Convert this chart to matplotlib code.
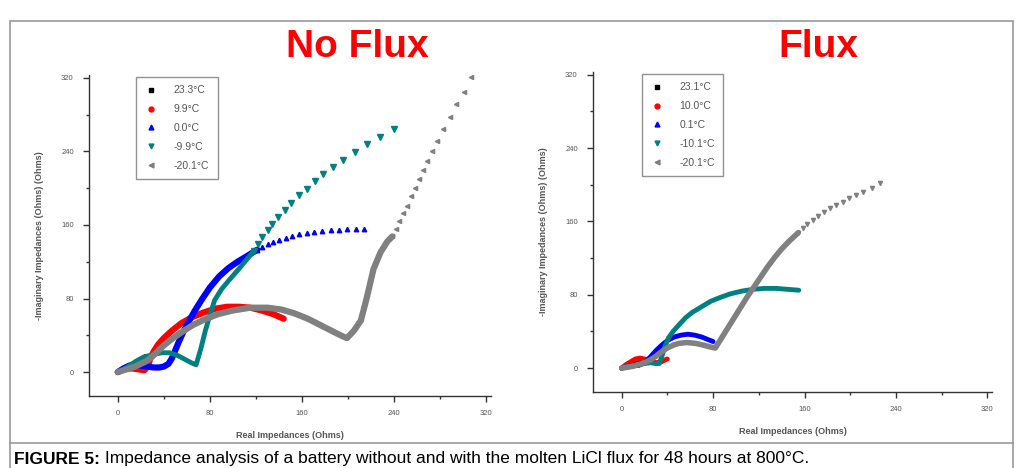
import matplotlib
matplotlib.use('Agg')
import matplotlib.pyplot as plt
from matplotlib.lines import Line2D
from matplotlib.patches import Rectangle
from matplotlib.ticker import MultipleLocator

plt.rcParams['font.family'] = ['Liberation Sans', 'DejaVu Sans']

##################################################################################################
#                    DATA
##################################################################################################

SERIES_COLORS = ['black', '#ff0000', '#0000ff', '#008080', '#808080']
SERIES_MARKERS = ['s', 'o', '^', 'v', '<']

# ---- No Flux ----
noflux_labels = ['23.3°C', '9.9°C', '0.0°C', '-9.9°C', '-20.1°C']

noflux_black_x = [0, 5, 10, 15, 20, 24]
noflux_black_y = [0, 4, 7, 10, 14, 17]

noflux_red_x = [0, 5, 12, 18, 23, 26, 28, 31, 35, 40, 47, 55, 65, 75, 85, 95, 105, 115, 125, 135, 144]
noflux_red_y = [0, 3, 4, 3, 2, 6, 14, 22, 30, 37, 45, 53, 60, 65, 69, 71, 71, 70, 67, 63, 58]

noflux_blue_x = [0, 5, 10, 15, 20, 26, 31, 36, 40, 44, 47, 50, 53, 57, 62, 67, 73, 80, 88, 96, 104, 112, 121]
noflux_blue_y = [0, 4, 7, 8, 7, 6, 5, 5, 6, 9, 15, 24, 33, 44, 56, 67, 79, 92, 104, 113, 120, 126, 133]
noflux_blue_tail_x = [121, 125.5, 130, 135, 140, 145.8, 151.6, 157.3, 164, 170.3, 177.6, 184.8, 192, 199.3, 206.5, 213.7]
noflux_blue_tail_y = [133, 136, 138.8, 141.3, 144, 146, 147.8, 149.7, 151, 152.2, 153.3, 154, 155, 155.6, 156, 156]

noflux_teal_x = [0, 5, 10, 16, 22, 30, 38, 45, 52, 58, 64, 68, 72, 76, 80, 84, 90, 98, 105, 111, 118.3]
noflux_teal_y = [0, 3, 7, 12, 16, 19, 21, 21, 18, 14, 10, 8, 25, 45, 62, 78, 90, 102, 112, 121, 132]
noflux_teal_tail_x = [118.3, 121.8, 125.5, 130, 134, 139, 145, 150.7, 157.3, 164, 171, 178.5, 187.2, 195.5, 205.6, 216.6, 227.6, 239.8]
noflux_teal_tail_y = [132, 139.6, 146.8, 154, 161, 168.4, 176.4, 183.6, 192, 199, 207.5, 215.5, 223.4, 231, 239, 248, 255.2, 264.3]

noflux_gray_x = [0, 5, 10, 15, 20, 25, 30, 35, 40, 47, 55, 65, 75, 87, 100, 115, 130, 142, 153, 165,
                 176, 187, 195, 199, 205, 211, 216, 222, 228, 234, 238.3]
noflux_gray_y = [0, 2, 4, 6, 9, 12, 17, 23, 29, 36, 43, 51, 57, 63, 67, 70, 70, 68, 64, 58,
                 51, 44, 39, 37, 45, 56, 80, 112, 130, 142, 147.5]
noflux_gray_tail_x = [238.3, 241.2, 244.4, 248, 251.4, 254.2, 258, 261.5, 265.2, 268.7, 273, 277.4,
                      282.6, 288.4, 293.3, 300.5, 306.3]
noflux_gray_tail_y = [147.5, 155.8, 164, 172.8, 181, 191, 200, 210, 219.8, 230, 240.8, 251.6,
                      264.3, 277.7, 292, 304, 320.3]

# ---- Flux ----
flux_labels = ['23.1°C', '10.0°C', '0.1°C', '-10.1°C', '-20.1°C']

flux_black_x = [0, 4, 8, 12, 16, 20]
flux_black_y = [0, 2, 4, 5, 6, 7]

flux_red_x = [0, 4, 8, 12, 16, 20, 25, 30, 35, 38, 40]
flux_red_y = [0, 4, 7, 10, 11, 10, 8, 6, 7, 9, 10]

flux_blue_x = [0, 5, 10, 15, 20, 25, 30, 35, 40, 46, 52, 58, 64, 70, 76, 80]
flux_blue_y = [0, 2, 3, 3, 6, 12, 19, 25, 30, 34, 36, 37, 36, 34, 31, 29]

flux_teal_x = [0, 5, 10, 15, 20, 25, 30, 33, 35, 38, 41, 45, 50, 56, 62, 70, 78, 86, 95, 105,
               115, 125, 135, 145, 155]
flux_teal_y = [0, 2, 3, 4, 5, 6, 5, 5, 12, 24, 33, 40, 47, 55, 61, 67, 73, 77, 81, 84,
               86, 87, 87, 86, 85]

flux_gray_x = [0, 5, 10, 15, 20, 25, 30, 35, 40, 45, 50, 57, 65, 72, 78, 82, 86, 92, 98, 104,
               110, 116, 122, 128, 134, 140, 147, 154.6]
flux_gray_y = [0, 1, 2, 4, 6, 9, 13, 18, 22, 25, 27, 28, 27, 25, 23, 22, 30, 42, 54, 66,
               78, 89, 100, 111, 121, 130, 139, 147.8]
flux_gray_tail_x = [154.6, 158.4, 162.5, 167.2, 172.1, 177.1, 182.4, 187.6, 193.5, 199.3, 205.2,
                    211.6, 218.9, 226.2]
flux_gray_tail_y = [147.8, 152.6, 157.3, 161.6, 166, 170, 174.4, 178, 181.6, 185.3, 189,
                    192.6, 196.2, 201.7]

X_LABEL = 'Real Impedances (Ohms)'
Y_LABEL = '-Imaginary Impedances (Ohms) (Ohms)'
CAPTION_BOLD = 'FIGURE 5:'
CAPTION_TEXT = ' Impedance analysis of a battery without and with the molten LiCl flux for 48 hours at 800°C.'

##################################################################################################
#                    FUNCTIONS TO PLOT DATA
##################################################################################################


def styleAxes(ax):
    """Origin-like axes : left/bottom spines only, outward ticks, minor ticks"""
    for side in ['top', 'right']:
        ax.spines[side].set_visible(False)
    for side in ['left', 'bottom']:
        ax.spines[side].set_color('#333333')
        ax.spines[side].set_linewidth(1.0)
    ax.set_xlim(-25, 324)
    ax.set_ylim(-26, 323)
    ax.xaxis.set_major_locator(MultipleLocator(80))
    ax.xaxis.set_minor_locator(MultipleLocator(40))
    ax.yaxis.set_major_locator(MultipleLocator(80))
    ax.yaxis.set_minor_locator(MultipleLocator(40))
    ax.tick_params(which='major', direction='out', length=4, width=1, color='#333333',
                   labelsize=5.5, labelcolor='#555555', pad=7)
    ax.tick_params(axis='x', which='major', pad=6)
    ax.tick_params(which='minor', direction='out', length=2.5, width=1, color='#333333')
    ax.set_xlabel(X_LABEL, fontsize=6.5, fontweight='bold', color='#555555', labelpad=10)
    ax.set_ylabel(Y_LABEL, fontsize=6.5, fontweight='bold', color='#555555', labelpad=12)


def plotBand(ax, x, y, color, lw):
    ax.plot(x, y, color=color, lw=lw, solid_capstyle='round', solid_joinstyle='round')


def plotTail(ax, x, y, color, marker, ms):
    ax.plot(x, y, ls='none', marker=marker, color=color, ms=ms, mec=color)


def addLegend(ax, labels, anchor):
    handles = []
    for i in range(len(labels)):
        handles.append(Line2D([], [], ls='none', marker=SERIES_MARKERS[i], color=SERIES_COLORS[i],
                              ms=3.5))
    leg = ax.legend(handles, labels, loc='upper left', bbox_to_anchor=anchor, fontsize=7.5,
                    labelspacing=0.85, handletextpad=1.6, borderpad=0.8, handlelength=1.2,
                    fancybox=False, frameon=True)
    leg.get_frame().set_edgecolor('#777777')
    leg.get_frame().set_linewidth(1.0)
    for t in leg.get_texts():
        t.set_color('#555555')


fig = plt.figure(figsize=(10.16, 4.68), dpi=100)

# outer frame + caption divider
fig.patches.append(Rectangle((10 / 1016, -0.01), 1003 / 1016, 1 - 21 / 468 + 0.01,
                             transform=fig.transFigure, fill=False, ec='#999999', lw=1.2))
fig.add_artist(Line2D([10 / 1016, 1013 / 1016], [25 / 468, 25 / 468], transform=fig.transFigure,
                      color='#999999', lw=1.2))

ax1 = fig.add_axes([89 / 1016, 72 / 468, 402 / 1016, 321 / 468])
ax2 = fig.add_axes([593 / 1016, 76 / 468, 399 / 1016, 320 / 468])
styleAxes(ax1)
styleAxes(ax2)

# No Flux panel
plotBand(ax1, noflux_black_x, noflux_black_y, SERIES_COLORS[0], 3.5)
plotBand(ax1, noflux_red_x, noflux_red_y, SERIES_COLORS[1], 4.5)
plotBand(ax1, noflux_blue_x, noflux_blue_y, SERIES_COLORS[2], 4.5)
plotTail(ax1, noflux_blue_tail_x, noflux_blue_tail_y, SERIES_COLORS[2], '^', 3.2)
plotBand(ax1, noflux_teal_x, noflux_teal_y, SERIES_COLORS[3], 3.5)
plotTail(ax1, noflux_teal_tail_x, noflux_teal_tail_y, SERIES_COLORS[3], 'v', 3.8)
plotBand(ax1, noflux_gray_x, noflux_gray_y, SERIES_COLORS[4], 4.5)
plotTail(ax1, noflux_gray_tail_x, noflux_gray_tail_y, SERIES_COLORS[4], '<', 3)
addLegend(ax1, noflux_labels, (0.105, 1.01))

# Flux panel
plotBand(ax2, flux_black_x, flux_black_y, SERIES_COLORS[0], 3.5)
plotBand(ax2, flux_red_x, flux_red_y, SERIES_COLORS[1], 3.5)
plotBand(ax2, flux_blue_x, flux_blue_y, SERIES_COLORS[2], 3.5)
plotBand(ax2, flux_teal_x, flux_teal_y, SERIES_COLORS[3], 3.5)
plotBand(ax2, flux_gray_x, flux_gray_y, SERIES_COLORS[4], 4)
plotTail(ax2, flux_gray_tail_x, flux_gray_tail_y, SERIES_COLORS[4], 'v', 3)
addLegend(ax2, flux_labels, (0.11, 1.01))

# panel titles
fig.text(357 / 1016, 1 - 47 / 468, 'No Flux', color='#ff0000', fontsize=28, fontweight='bold',
         ha='center', va='center')
fig.text(818 / 1016, 1 - 47 / 468, 'Flux', color='#ff0000', fontsize=28, fontweight='bold',
         ha='center', va='center')

# caption
t1 = fig.text(14 / 1016, 9 / 468, CAPTION_BOLD, fontsize=12.5, fontweight='bold', va='center')
ax1.annotate(CAPTION_TEXT, xy=(1, 0.5), xycoords=t1, va='center', ha='left', fontsize=12.5,
             annotation_clip=False)

plt.savefig('out.png', dpi=100)
